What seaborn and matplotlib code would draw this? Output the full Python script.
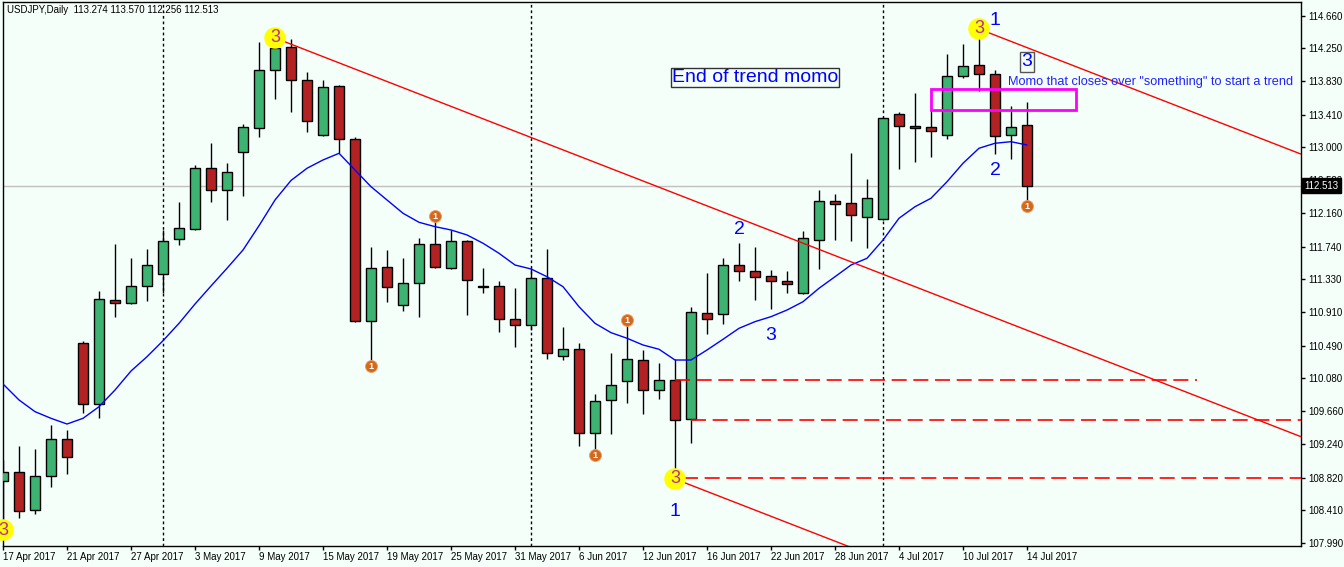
import numpy as np
import pandas as pd
import seaborn as sns
import matplotlib.pyplot as plt
import matplotlib.transforms as mtransforms

# USDJPY daily candles, 17 Apr - 14 Jul 2017
dates = pd.bdate_range("2017-04-17", "2017-07-14")
opens = [108.778, 108.891, 108.411, 108.841, 109.309, 110.522, 109.751, 111.066, 111.028, 111.243,
         111.395, 111.837, 111.963, 112.735, 112.457, 112.937, 113.240, 113.974, 114.264, 113.847,
         113.152, 113.771, 113.101, 110.800, 111.483, 111.003, 111.281, 111.774, 111.470, 111.812,
         111.240, 111.243, 110.826, 110.750, 111.344, 110.358, 110.446, 109.384, 109.802, 110.042,
         110.307, 109.928, 110.055, 109.562, 110.902, 110.889, 111.508, 111.433, 111.369, 111.306,
         111.154, 111.824, 112.317, 112.292, 112.115, 112.090, 113.417, 113.266, 113.253, 113.152,
         113.898, 114.037, 113.923, 113.152, 113.274]
highs = [109.043, 109.220, 109.182, 109.486, 109.422, 110.548, 111.180, 111.774, 111.597, 111.711,
         111.951, 112.305, 112.773, 113.051, 112.798, 113.291, 114.328, 114.378, 114.365, 113.948,
         113.847, 113.784, 113.127, 111.736, 111.698, 111.597, 111.850, 112.128, 111.951, 111.824,
         111.470, 111.306, 111.218, 111.470, 111.711, 110.725, 110.522, 109.878, 110.396, 110.813,
         110.434, 110.269, 110.320, 110.977, 111.407, 111.597, 111.787, 111.736, 111.445, 111.433,
         111.938, 112.457, 112.406, 112.924, 112.596, 113.380, 113.443, 113.683, 113.468, 114.176,
         114.302, 114.492, 113.974, 113.518, 113.570]
lows = [108.158, 108.310, 108.360, 108.702, 108.866, 109.637, 109.574, 110.851, 111.015, 111.053,
        111.154, 111.761, 111.951, 112.305, 112.077, 112.381, 113.127, 113.607, 113.443, 113.190,
        113.139, 112.924, 110.788, 110.232, 111.041, 110.927, 110.851, 111.470, 111.458, 110.876,
        111.154, 110.661, 110.472, 110.687, 110.320, 110.307, 109.220, 109.106, 109.372, 109.764,
        109.625, 109.814, 108.803, 109.258, 110.636, 110.762, 111.306, 111.066, 110.952, 111.154,
        111.142, 111.458, 111.824, 111.812, 111.723, 112.077, 112.722, 112.810, 112.874, 113.101,
        113.872, 113.708, 112.912, 112.848, 112.256]
closes = [108.891, 108.398, 108.841, 109.309, 109.081, 109.751, 111.079, 111.028, 111.243, 111.508,
          111.812, 111.976, 112.735, 112.457, 112.684, 113.253, 113.974, 114.252, 113.847, 113.329,
          113.759, 113.101, 110.800, 111.470, 111.230, 111.281, 111.774, 111.483, 111.812, 111.319,
          111.230, 110.826, 110.750, 111.344, 110.396, 110.446, 109.384, 109.789, 109.991, 110.320,
          109.928, 110.055, 109.549, 110.914, 110.826, 111.508, 111.433, 111.357, 111.306, 111.268,
          111.850, 112.317, 112.280, 112.140, 112.355, 113.367, 113.266, 113.240, 113.202, 113.898,
          114.024, 113.923, 113.139, 113.253, 112.513]
# moving average (blue line)
ma = [110.004, 109.802, 109.654, 109.570, 109.498, 109.570, 109.717, 109.928, 110.168, 110.349,
      110.551, 110.771, 111.015, 111.243, 111.467, 111.698, 112.005, 112.330, 112.577, 112.731,
      112.836, 112.920, 112.709, 112.498, 112.330, 112.162, 112.048, 111.993, 111.951, 111.888,
      111.783, 111.656, 111.508, 111.458, 111.360, 111.234, 110.981, 110.771, 110.653, 110.582,
      110.497, 110.443, 110.307, 110.307, 110.434, 110.569, 110.708, 110.792, 110.855, 110.939,
      111.044, 111.214, 111.360, 111.508, 111.593, 111.824, 112.099, 112.245, 112.352, 112.561,
      112.794, 112.984, 113.047, 113.067, 113.025]

price_ticks = [107.990, 108.410, 108.820, 109.240, 109.660, 110.080, 110.490, 110.910, 111.330,
               111.740, 112.160, 112.580, 113.000, 113.410, 113.830, 114.250, 114.660]
month_starts = ["2017-05-01", "2017-06-01", "2017-07-03"]

# swing markers
three_bars = [0, 17, 42, 61]
three_side = ["low", "high", "low", "high"]
one_bars = [23, 27, 37, 39, 64]
one_side = ["low", "high", "low", "high", "low"]

# channel lines and horizontal levels
channel_slope = -0.0786  # price per bar
levels = [110.055, 109.555, 108.810]
level_start = [42, 43, 42.5]
level_end = [74.6, None, None]

BG = "#F5FFFA"
GREEN = "#3CB371"
RED = "#B22222"

sns.set_theme(style="white", rc={"axes.facecolor": BG, "figure.facecolor": BG})
plt.rcParams["font.family"] = ["Liberation Sans", "DejaVu Sans"]

df = pd.DataFrame({"date": dates, "open": opens, "high": highs, "low": lows,
                   "close": closes, "ma": ma})
df["bar"] = np.arange(len(df))
up = df["close"] >= df["open"]

fig = plt.figure(figsize=(13.44, 5.67), dpi=100)
ax = fig.add_axes([2.7 / 1344, 21 / 567, (1301 - 2.7) / 1344, (546 - 2.3) / 567])
xmax = 81.125
ax.set_xlim(-0.02, xmax)
ax.set_ylim(107.956, 114.829)

# current price line
ax.axhline(closes[-1], color="#C0C0C0", lw=1, zorder=1)

# month separators
for d in month_starts:
    b = df.index[df["date"] == pd.Timestamp(d)][0]
    ax.axvline(b, color="black", lw=1, ls=(0, (2, 2)), zorder=1)

# candles
ax.vlines(df["bar"], df["low"], df["high"], color="black", lw=1, zorder=2)
ax.bar(df["bar"], np.maximum((df["close"] - df["open"]).abs(), 0.004),
       bottom=np.minimum(df["open"], df["close"]), width=0.62,
       color=np.where(up, GREEN, RED), edgecolor="black", linewidth=1, zorder=3)

# moving average
sns.lineplot(data=df, x="bar", y="ma", color="#0000FF", lw=1, ax=ax, zorder=4)

# channel lines from the swing points
for b, side in zip(three_bars[1:], three_side[1:]):
    p = highs[b] if side == "high" else lows[b]
    xs = np.array([b, xmax])
    ax.plot(xs, p + channel_slope * (xs - b), color="red", lw=1, zorder=4)

# dashed horizontal levels
for lv, s, e in zip(levels, level_start, level_end):
    ax.hlines(lv, s, xmax if e is None else e, colors="red", lw=1.2,
              linestyles=(0, (9, 4)), zorder=4)

# swing markers
for b, side in zip(three_bars, three_side):
    p = highs[b] if side == "high" else lows[b]
    ax.scatter(b, p, s=240, color="#FFFF00", edgecolor="none", zorder=6, clip_on=False)
    ax.text(b, p, "3", ha="center", va="center", fontsize=13, color="#B8309A", zorder=7)
for b, side in zip(one_bars, one_side):
    p = highs[b] if side == "high" else lows[b]
    ax.scatter(b, p, s=75, color="#D2691E", edgecolor="#F0A060", lw=0.6, zorder=6)
    ax.text(b, p - 0.005, "1", ha="center", va="center", fontsize=6.5, color="white",
            fontweight="bold", zorder=7)

# wave counts
waves = [("1", 62.0, 114.597), ("2", 62.0, 112.700), ("2", 46.0, 111.960),
         ("3", 48.0, 110.611), ("1", 42.0, 108.390)]
for t, b, p in waves:
    ax.text(b, p, t, ha="center", va="center", fontsize=14, color="#0000FF", zorder=7)
ax.text(64.0, 114.075, "3", ha="center", va="center", fontsize=14, color="#0000FF", zorder=7,
        bbox=dict(boxstyle="square,pad=0.08", fc=BG, ec="#555555", lw=1))

# notes
ax.text(47.0, 113.879, "End of trend momo", ha="center", va="center", fontsize=14,
        color="#0000FF", zorder=7,
        bbox=dict(boxstyle="square,pad=0.06", fc=BG, ec="#333333", lw=1))
ax.text(62.8, 113.822, 'Momo that closes over "something" to start a trend', ha="left",
        va="center", fontsize=9.2, color="#2020FF", zorder=7, clip_on=False)
ax.add_patch(plt.Rectangle((58, 113.472), 9.04, 0.265, fill=False, ec="#FF00FF", lw=2, zorder=5))

# axes styling
for sp in ax.spines.values():
    sp.set_color("black")
    sp.set_linewidth(1)
ax.set_xlabel("")
ax.set_ylabel("")
tick_bars = df["bar"][::4]
ax.set_xticks(tick_bars)
ax.set_xticklabels([f"{d.day} {d:%b %Y}" for d in df["date"][::4]], ha="left")
ax.yaxis.tick_right()
ax.set_yticks(price_ticks)
ax.set_yticklabels([f"{v:.3f}" for v in price_ticks])
ax.tick_params(axis="x", direction="out", length=3, width=1, pad=1.5, labelsize=7,
               colors="black", bottom=True)
ax.tick_params(axis="y", direction="out", length=3, width=1, pad=2, labelsize=7,
               colors="black", right=True, left=False)

blend = mtransforms.blended_transform_factory(ax.transAxes, ax.transData)
ax.text(1.0025, closes[-1], f"{closes[-1]:.3f}", transform=blend, ha="left", va="center",
        fontsize=7, color="white", zorder=10, clip_on=False,
        bbox=dict(boxstyle="square,pad=0.25", fc="black", ec="black"))

fig.text(7 / 1344, 1 - 10 / 567,
         f"USDJPY,Daily  {opens[-1]:.3f} {highs[-1]:.3f} {lows[-1]:.3f} {closes[-1]:.3f}",
         fontsize=7, ha="left", va="center", color="black")

fig.savefig("out.png", dpi=100, facecolor=BG)
